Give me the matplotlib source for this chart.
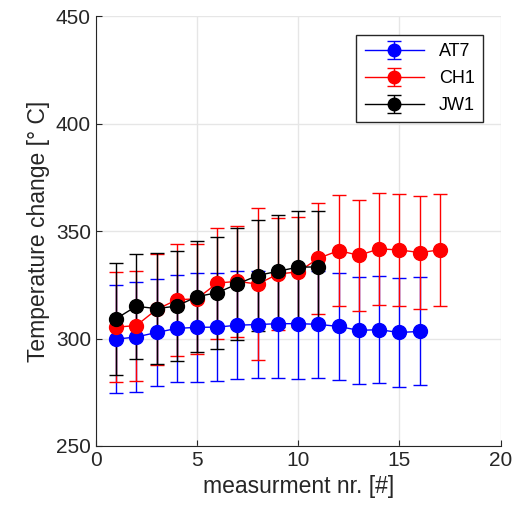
import numpy as np
import matplotlib.pyplot as plt

plt.rcParams['font.family'] = ['Liberation Sans', 'DejaVu Sans']

x_at7 = list(range(1, 17))
at7 = [299.7, 300.7, 302.8, 304.7, 305.2, 305.3, 306.2, 306.5,
       306.9, 306.9, 306.6, 305.6, 303.8, 304.1, 302.8, 303.3]
at7_err = [25.2, 25.5, 25.1, 25.0, 25.3, 25.2, 25.2, 25.1,
           25.2, 25.7, 24.9, 24.8, 25.0, 25.0, 25.2, 25.1]

x_ch1 = list(range(1, 18))
ch1 = [305.3, 306.0, 313.5, 318.0, 318.5, 325.8, 326.6, 325.3,
       330.0, 331.0, 337.3, 340.9, 338.7, 341.7, 341.2, 340.0, 341.2]
ch1_err = [25.6, 25.6, 26.0, 26.0, 25.5, 25.8, 25.8, 35.5,
           26.0, 25.5, 25.9, 26.0, 25.9, 26.2, 25.9, 26.1, 26.1]

x_jw1 = list(range(1, 12))
jw1 = [309.2, 315.0, 313.9, 315.1, 319.5, 321.3, 325.4, 329.3,
       331.3, 333.2, 333.3]
jw1_err = [26.0, 24.4, 25.8, 25.5, 26.0, 26.0, 26.0, 26.0,
           26.0, 26.0, 26.0]

fig = plt.figure(figsize=(5.15, 5.18), dpi=100)
ax = fig.add_axes([0.186, 0.139, 0.786, 0.830])

kw = dict(marker='o', markersize=10, linewidth=1, elinewidth=1, capsize=5)
ax.errorbar(x_at7, at7, yerr=at7_err, color='#0000ff', label='AT7', **kw)
ax.errorbar(x_ch1, ch1, yerr=ch1_err, color='#ff0000', label='CH1', **kw)
ax.errorbar(x_jw1, jw1, yerr=jw1_err, color='black', label='JW1', **kw)

ax.set_xlim(0, 20)
ax.set_ylim(250, 450)
ax.set_xticks([0, 5, 10, 15, 20])
ax.set_yticks([250, 300, 350, 400, 450])
ax.grid(True, color='#e6e6e6', linewidth=1)
ax.set_axisbelow(True)

for s in ['top', 'right']:
    ax.spines[s].set_visible(False)
for s in ['left', 'bottom']:
    ax.spines[s].set_color('#262626')
ax.tick_params(direction='in', length=4, colors='#262626', labelsize=15)

ax.set_xlabel('measurment nr. [#]', fontsize=16.5, color='#262626')
ax.set_ylabel('Temperature change [° C]', fontsize=16.5, color='#262626')

leg = ax.legend(loc='upper right', fontsize=13, handlelength=3.3,
                labelspacing=0.55, markerscale=0.9, borderaxespad=0,
                fancybox=False, framealpha=1, borderpad=0.45,
                bbox_to_anchor=(0.956, 0.956))
leg.get_frame().set_edgecolor('#262626')
leg.get_frame().set_linewidth(1)

fig.savefig('out.png', dpi=100)
